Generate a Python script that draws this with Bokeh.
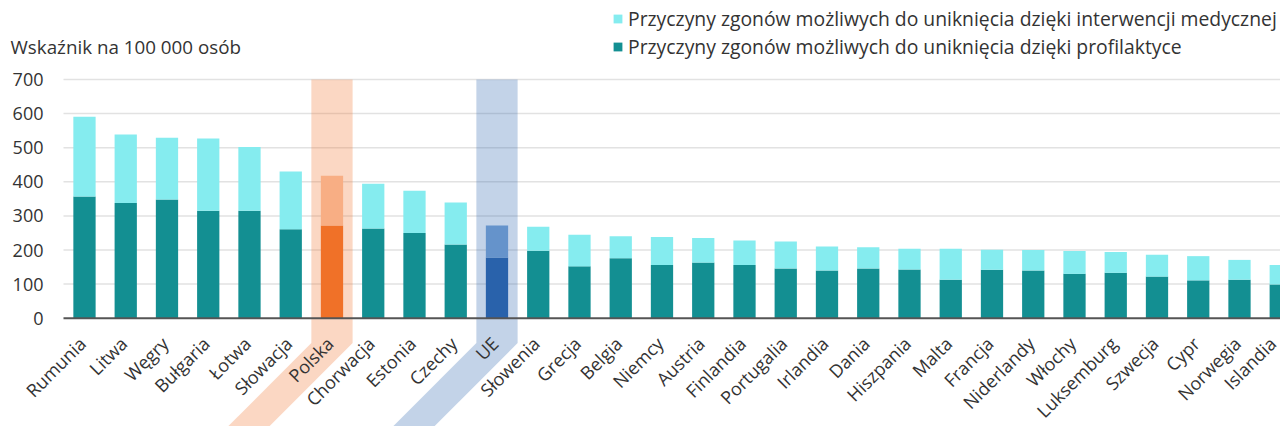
import math
from bokeh.plotting import figure
from bokeh.models import Range1d, FixedTicker, Label, Legend, LegendItem, ColumnDataSource
from bokeh.core.properties import value
from bokeh.embed import file_html
from bokeh.resources import INLINE

# ---- data ----
countries = ["Rumunia", "Litwa", "Węgry", "Bułgaria", "Łotwa", "Słowacja", "Polska",
             "Chorwacja", "Estonia", "Czechy", "UE", "Słowenia", "Grecja", "Belgia",
             "Niemcy", "Austria", "Finlandia", "Portugalia", "Irlandia", "Dania",
             "Hiszpania", "Malta", "Francja", "Niderlandy", "Włochy", "Luksemburg",
             "Szwecja", "Cypr", "Norwegia", "Islandia"]
prevention = [357, 338, 348, 315, 315, 261, 272, 263, 250, 216, 178, 198, 152, 176,
              156, 163, 156, 146, 140, 146, 143, 113, 142, 140, 130, 133, 122, 111, 113, 99]
treatment = [234, 201, 181, 212, 187, 169, 146, 131, 124, 123, 94, 70, 93, 64,
             82, 72, 72, 79, 70, 62, 61, 91, 59, 60, 67, 61, 64, 71, 58, 57]
y_ticks = [0, 100, 200, 300, 400, 500, 600, 700]
label_prev = "Przyczyny zgonów możliwych do uniknięcia dzięki profilaktyce"
label_treat = "Przyczyny zgonów możliwych do uniknięcia dzięki interwencji medycznej"
y_title = "Wskaźnik na 100 000 osób"

# ---- styles / geometry ----
C_DARK, C_LIGHT = "#138F92", "#85ECEF"
HIGHLIGHT = {"Polska": ("#F07128", "#F8AE84"), "UE": ("#2962AB", "#6593CB")}
FONT = value("Open Sans")
TXT = "#333333"

W, H = 1280, 426
X0, X1 = -2.036, 28.994          # frame spans whole canvas
Y0, Y1 = -317.6, 931.7
PX_X = W / (X1 - X0)
PX_Y = H / (Y1 - Y0)
AXIS_X = -0.509                   # where the value axis / plot area starts
BAND_BOTTOM = -73

dark = [HIGHLIGHT[c][0] if c in HIGHLIGHT else C_DARK for c in countries]
light = [HIGHLIGHT[c][1] if c in HIGHLIGHT else C_LIGHT for c in countries]
xs = list(range(len(countries)))
total = [a + b for a, b in zip(prevention, treatment)]
# keep the last (edge) label inside the canvas
dx = [-2] * (len(countries) - 1) + [-8]
src = ColumnDataSource(dict(x=xs, name=countries, prev=prevention, total=total,
                            dark=dark, light=light, dx=dx))

p = figure(width=W, height=H, x_range=Range1d(X0, X1), y_range=Range1d(Y0, Y1),
           output_backend="svg", toolbar_location=None, x_axis_location=None,
           min_border_left=0, min_border_right=0, min_border_top=0, min_border_bottom=0)
p.outline_line_color = None
p.xgrid.visible = False
p.ygrid.visible = False

ax = p.yaxis[0]
ax.fixed_location = AXIS_X
ax.ticker = FixedTicker(ticks=y_ticks)
ax.axis_line_color = None
ax.major_tick_line_color = None
ax.minor_tick_line_color = None
ax.major_tick_out = 0
ax.major_tick_in = 0
ax.major_label_standoff = 20
ax.major_label_text_font = "Open Sans"
ax.major_label_text_font_size = "18px"
ax.major_label_text_color = TXT

# horizontal gridlines from the value axis to the right edge
p.segment(x0=[AXIS_X] * (len(y_ticks) - 1), x1=[X1] * (len(y_ticks) - 1),
          y0=y_ticks[1:], y1=y_ticks[1:], line_color="#e2e2e2", line_width=1.5,
          level="underlay")

# highlight bands
shift = (BAND_BOTTOM - Y0) * PX_Y / PX_X
for name, (c_dark, _) in HIGHLIGHT.items():
    i = countries.index(name)
    p.quad(left=i - 0.5, right=i + 0.5, bottom=BAND_BOTTOM, top=y_ticks[-1],
           fill_color=c_dark, fill_alpha=0.28, line_color=None)
    p.patch(x=[i - 0.5, i + 0.5, i + 0.5 - shift, i - 0.5 - shift],
            y=[BAND_BOTTOM, BAND_BOTTOM, Y0, Y0],
            fill_color=c_dark, fill_alpha=0.28, line_color=None)

r_bot = p.vbar(x="x", width=0.54, bottom=0, top="prev", fill_color="dark",
               line_color=None, source=src)
r_top = p.vbar(x="x", width=0.54, bottom="prev", top="total", fill_color="light",
               line_color=None, source=src)

# zero line
p.segment(x0=[AXIS_X], x1=[X1], y0=[0], y1=[0], line_color="#555555", line_width=2)

# rotated category labels
p.text(x="x", y=0, text="name", source=src, angle=math.pi / 4, text_align="right",
       text_baseline="middle", x_offset="dx", y_offset=22, text_font=FONT,
       text_font_size="18px", text_color=TXT)

p.add_layout(Label(x=10, y=H - 46, x_units="screen", y_units="screen",
                   text=y_title, text_font="Open Sans", text_font_size="18.8px",
                   text_color=TXT, text_baseline="middle"))

legend = Legend(items=[LegendItem(label=label_treat, renderers=[r_top], index=0),
                       LegendItem(label=label_prev, renderers=[r_bot], index=0)],
                location=(612, H - 60), orientation="vertical",
                glyph_width=11, glyph_height=11, label_standoff=5, spacing=1,
                padding=0, margin=0, border_line_color=None, background_fill_alpha=0,
                label_text_font="Open Sans", label_text_font_size="19.35px",
                label_text_color=TXT, label_height=26)
p.add_layout(legend)

open("out.html", "w").write(file_html(p, INLINE))
